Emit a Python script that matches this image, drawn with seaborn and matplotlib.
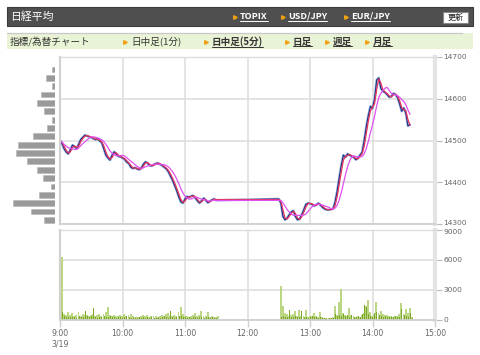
import numpy as np
import pandas as pd
import matplotlib
matplotlib.use("Agg")
import matplotlib.pyplot as plt
import matplotlib.transforms as mtransforms
import seaborn as sns
from matplotlib.patches import Rectangle

# ---------------- data ----------------
# closing prices every 2 minutes, morning session 9:00-11:30
am_close = [14500, 14492, 14480, 14472, 14468, 14478, 14489, 14485, 14481, 14492,
            14503, 14508, 14513, 14511, 14509, 14507, 14505, 14502, 14504, 14499,
            14495, 14480, 14465, 14458, 14453, 14465, 14473, 14468, 14462, 14461,
            14458, 14455, 14448, 14445, 14436, 14433, 14435, 14432, 14430, 14434,
            14443, 14449, 14446, 14440, 14439, 14442, 14445, 14446, 14443, 14440,
            14436, 14432, 14425, 14415, 14405, 14392, 14380, 14365, 14353, 14350,
            14360, 14366, 14364, 14367, 14368, 14362, 14355, 14350, 14356, 14362,
            14356, 14351, 14355, 14358, 14360, 14357]
# afternoon session 12:30-14:36
pm_close = [14360, 14350, 14318, 14310, 14314, 14322, 14329, 14332, 14318, 14310,
            14312, 14322, 14334, 14347, 14350, 14349, 14347, 14343, 14346, 14350,
            14345, 14340, 14336, 14334, 14334, 14335, 14336, 14352, 14378, 14410,
            14440, 14465, 14460, 14468, 14465, 14462, 14460, 14454, 14458, 14465,
            14472, 14500, 14533, 14560, 14582, 14577, 14600, 14645, 14650, 14625,
            14618, 14615, 14610, 14604, 14605, 14613, 14610, 14603, 14588, 14570,
            14578, 14565, 14535, 14538]

# volume per minute: even minutes (light bars) and odd minutes (dark bars)
am_vol_a = [6300, 600, 550, 830, 500, 670, 450, 500, 830, 450,
            600, 500, 500, 450, 500, 600, 450, 500, 570, 450,
            600, 830, 1270, 550, 450, 500, 450, 400, 500, 450,
            560, 450, 500, 600, 450, 350, 300, 300, 450, 550,
            400, 500, 350, 400, 450, 400, 350, 450, 500, 400,
            600, 730, 450, 400, 500, 450, 830, 1330, 600, 450,
            400, 350, 450, 550, 730, 400, 500, 900, 400, 450,
            830, 350, 400, 300, 350, 400]
am_vol_b = [800, 400, 350, 300, 350, 300, 350, 250, 400, 350,
            300, 930, 400, 350, 400, 1170, 300, 250, 350, 300,
            400, 350, 300, 400, 300, 350, 250, 300, 350, 250,
            300, 400, 300, 250, 200, 200, 250, 300, 250, 300,
            250, 300, 250, 350, 200, 250, 300, 250, 300, 400,
            350, 250, 930, 300, 250, 350, 400, 450, 350, 300,
            250, 300, 250, 350, 300, 250, 350, 300, 250, 300,
            350, 250, 300, 200, 250]
pm_vol_a = [3450, 1450, 700, 650, 400, 500, 600, 900, 400, 1000,
            450, 400, 1000, 350, 400, 450, 730, 400, 350, 830,
            300, 250, 250, 200, 250, 300, 1450, 500, 1800, 3100,
            700, 500, 400, 1230, 500, 400, 350, 450, 300, 500,
            700, 1400, 2000, 800, 400, 500, 1800, 700, 900, 600,
            500, 550, 450, 400, 350, 450, 400, 600, 1750, 600,
            1130, 700, 1200, 300]
pm_vol_b = [300, 400, 350, 300, 1000, 350, 300, 400, 300, 350,
            900, 300, 350, 250, 300, 400, 300, 350, 250, 300,
            200, 250, 200, 200, 200, 250, 600, 400, 500, 450,
            600, 400, 500, 350, 500, 300, 350, 400, 300, 600,
            1470, 1300, 600, 400, 300, 700, 800, 500, 450, 300,
            400, 350, 300, 350, 300, 400, 300, 350, 1070, 500,
            400, 350, 700, 200]

# volume-by-price profile
profile_prices = [14670, 14650, 14630, 14610, 14590, 14570, 14550, 14530, 14510, 14490,
                  14470, 14450, 14430, 14410, 14390, 14370, 14350, 14330, 14310]
profile_vol = [3, 9, 3, 14, 18, 11, 3, 8, 22, 37, 39, 28, 18, 12, 4, 16, 42, 24, 11]

price_ticks = [14300, 14400, 14500, 14600, 14700]
vol_ticks = [0, 3000, 6000, 9000]
time_ticks = [0, 60, 120, 180, 240, 300, 360]
time_labels = ["9:00\n3/19", "10:00", "11:00", "12:00", "13:00", "14:00", "15:00"]

title = "日経平均"
header_links = ["TOPIX", "USD/JPY", "EUR/JPY"]
refresh = "更新"
menu_label = "指標/為替チャート"
menu_links = ["日中足(1分)", "日中足(5分)", "日足", "週足", "月足"]

# ---------------- build frames ----------------
am_t = 2 * np.arange(len(am_close))
pm_t = 210 + 2 * np.arange(len(pm_close))
df = pd.DataFrame({"t": np.concatenate([am_t, pm_t]),
                   "close": am_close + pm_close})
df["ma_s"] = df["close"].rolling(2, min_periods=1).mean()
df["ma_l"] = df["close"].rolling(6, min_periods=1).mean()

sns.set_theme(style="white")
plt.rcParams["font.family"] = ["DejaVu Sans", "Noto Sans CJK JP"]
CJK = ["Noto Sans CJK JP", "DejaVu Sans"]

W, H = 480, 355
fig = plt.figure(figsize=(W / 100, H / 100), dpi=100)
fig.patch.set_facecolor("white")

# background / header axes in pixel coords
bg = fig.add_axes([0, 0, 1, 1])
bg.set_xlim(0, W)
bg.set_ylim(H, 0)
bg.axis("off")

bg.add_patch(Rectangle((7, 7), 466, 19, facecolor="#4f4f4f", edgecolor="#3c3c3c", lw=0.8))
bg.text(10, 16.5, title, color="white", fontsize=7.8, va="center", ha="left", family=CJK)
orange = "#f0a010"
link_x = [240, 288, 351]
texts_to_underline = []
for lx, lab in zip(link_x, header_links):
    bg.plot([lx - 5], [17], marker=">", ms=2.6, color=orange, mec=orange)
    t = bg.text(lx, 16.5, lab, color="white", fontsize=6.6, fontweight="bold",
                va="center", ha="left", family=CJK)
    texts_to_underline.append((t, "white"))
bg.add_patch(Rectangle((443, 11.5), 25, 11, facecolor="white", edgecolor="#888888", lw=0.8))
bg.text(455.5, 17, refresh, color="#222222", fontsize=5.8, va="center", ha="center", family=CJK)

bg.add_patch(Rectangle((7, 33), 466, 16, facecolor="#e9f4d6", edgecolor="none"))
bg.plot([7, 462], [33, 33], color="#c8c8c8", lw=0.9)
bg.text(10, 41.5, menu_label, color="#333333", fontsize=6.9, va="center", ha="left", family=CJK)
menu_x = [131, 212, 293, 333, 373]
for i, (mx, lab) in enumerate(zip(menu_x, menu_links)):
    bg.plot([mx - 6], [41.5], marker=">", ms=2.6, color=orange, mec=orange)
    bold = i > 0
    t = bg.text(mx, 41.5, lab, color="#333333", fontsize=6.9,
                fontweight="bold" if bold else "normal",
                va="center", ha="left", family=CJK)
    if bold:
        texts_to_underline.append((t, "#333333"))

grid_c = "#dddddd"
tick_c = "#666666"

# ---------------- price chart ----------------
ax = fig.add_axes([60 / W, 1 - 224 / H, 375 / W, 167 / H])
ax.set_xlim(0, 360)
ax.set_ylim(14300, 14700)
sns.lineplot(data=df, x="t", y="close", ax=ax, color="#86a8dc", lw=1.7, estimator=None)
sns.lineplot(data=df, x="t", y="close", ax=ax, color="#1c2a78", lw=0.7, estimator=None)
sns.lineplot(data=df, x="t", y="ma_s", ax=ax, color="#e8305a", lw=0.9, estimator=None)
sns.lineplot(data=df, x="t", y="ma_l", ax=ax, color="#e050f0", lw=0.9, estimator=None)
ax.set_xticks(time_ticks)
ax.set_yticks(price_ticks)
ax.set_xticklabels([])
ax.set_yticklabels([str(v) for v in price_ticks])
ax.grid(True, color=grid_c, lw=1.1)
ax.set_axisbelow(True)
ax.yaxis.tick_right()
ax.tick_params(axis="y", length=5, width=0.8, color="#bbbbbb", labelsize=5.4,
               labelcolor=tick_c, pad=1, right=True, left=False)
ax.tick_params(axis="x", length=0)
ax.set_xlabel("")
ax.set_ylabel("")
for s, c, w in [("top", "#dddddd", 1.0), ("left", "#d0d0d0", 1.5),
                ("bottom", "#d0d0d0", 1.3), ("right", "#e4e4e4", 3.0)]:
    ax.spines[s].set_visible(True)
    ax.spines[s].set_color(c)
    ax.spines[s].set_linewidth(w)

# ---------------- volume profile ----------------
hx = fig.add_axes([12 / W, 1 - 224 / H, 43 / W, 167 / H])
hx.barh(profile_prices, profile_vol, height=14, color="#9a9a9a", edgecolor="#b5b5b5", lw=0.4)
hx.set_xlim(max(profile_vol) * 43 / 42, 0)
hx.set_ylim(14300, 14700)
hx.axis("off")

# ---------------- volume chart ----------------
vx = fig.add_axes([60 / W, 1 - 320 / H, 375 / W, 90 / H])
vx.set_xlim(0, 360)
vx.set_ylim(0, 9000)
light, dark = "#bcd783", "#7ba526"
vx.bar(am_t + 0.8, am_vol_a, width=1.9, align="edge", lw=0, color=light)
vx.bar(pm_t + 0.8, pm_vol_a, width=1.9, align="edge", lw=0, color=light)
vx.bar(am_t[:len(am_vol_b)] + 1.8, am_vol_b, width=0.95, align="edge", lw=0, color=dark)
vx.bar(pm_t + 1.8, pm_vol_b, width=0.95, align="edge", lw=0, color=dark)
vx.set_xticks(time_ticks)
vx.set_xticklabels(time_labels)
vx.set_yticks(vol_ticks)
vx.set_yticklabels([str(v) for v in vol_ticks])
vx.grid(True, color=grid_c, lw=1.1)
vx.set_axisbelow(True)
vx.yaxis.tick_right()
vx.tick_params(axis="y", length=5, width=0.8, color="#bbbbbb", labelsize=5.4,
               labelcolor=tick_c, pad=1, right=True, left=False)
vx.tick_params(axis="x", length=5, width=1.0, color="#d0d0d0", labelsize=5.6,
               labelcolor=tick_c, pad=1.5, bottom=True)
for lab in vx.get_xticklabels():
    lab.set_linespacing(1.25)
for s, c, w in [("top", "#dddddd", 1.0), ("left", "#d0d0d0", 1.5),
                ("bottom", "#d0d0d0", 1.3), ("right", "#e4e4e4", 3.0)]:
    vx.spines[s].set_visible(True)
    vx.spines[s].set_color(c)
    vx.spines[s].set_linewidth(w)

# nudge the two touching labels at the chart join apart slightly
up = mtransforms.ScaledTranslation(0, 1.2 / 72, fig.dpi_scale_trans)
down = mtransforms.ScaledTranslation(0, -1.2 / 72, fig.dpi_scale_trans)
ax.get_yticklabels()[0].set_transform(ax.get_yticklabels()[0].get_transform() + up)
vx.get_yticklabels()[-1].set_transform(vx.get_yticklabels()[-1].get_transform() + down)

# underlines for link texts
fig.canvas.draw()
renderer = fig.canvas.get_renderer()
inv = bg.transData.inverted()
for t, col in texts_to_underline:
    bb = t.get_window_extent(renderer)
    (x0, y0), (x1, _) = inv.transform([(bb.x0, bb.y0), (bb.x1, bb.y0)])
    bg.plot([x0, x1], [y0 - 0.3, y0 - 0.3], color=col, lw=0.7)

fig.savefig("out.png", dpi=100, facecolor="white")
